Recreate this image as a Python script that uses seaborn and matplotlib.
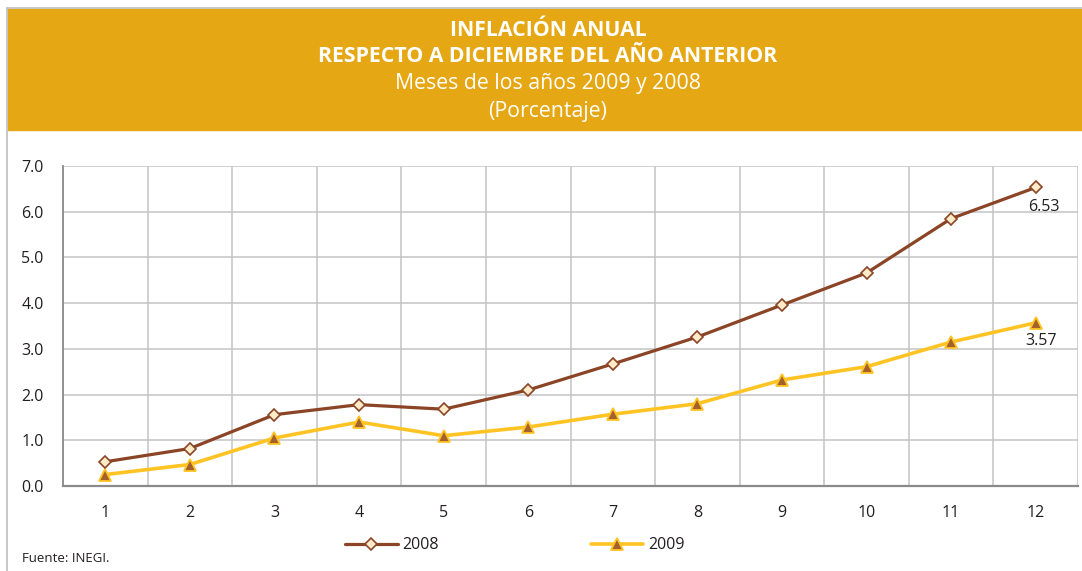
import matplotlib
matplotlib.use("Agg")
import matplotlib.pyplot as plt
import seaborn as sns
import pandas as pd
from matplotlib.patches import Rectangle
from matplotlib.lines import Line2D

# Data
meses = [1, 2, 3, 4, 5, 6, 7, 8, 9, 10, 11, 12]
infl_2008 = [0.53, 0.82, 1.56, 1.78, 1.68, 2.10, 2.67, 3.26, 3.96, 4.66, 5.85, 6.53]
infl_2009 = [0.25, 0.47, 1.05, 1.40, 1.10, 1.29, 1.57, 1.80, 2.32, 2.61, 3.15, 3.57]
y_ticks = [0.0, 1.0, 2.0, 3.0, 4.0, 5.0, 6.0, 7.0]
titulo = ["INFLACIÓN ANUAL", "RESPECTO A DICIEMBRE DEL AÑO ANTERIOR",
          "Meses de los años 2009 y 2008", "(Porcentaje)"]

df = pd.DataFrame({"mes": meses, "2008": infl_2008, "2009": infl_2009})

sns.set_theme(style="white")
plt.rcParams["font.family"] = ["Open Sans", "DejaVu Sans"]

GOLD = "#E5A713"
BROWN = "#8B4426"
YELLOW = "#FFC423"
GRID = "#C4C4C4"
AXIS = "#8A8A8A"
TXT = "#231F20"

fig = plt.figure(figsize=(10.82, 5.71), dpi=100)
W, H = 1082, 571

# header band and outer frame
fig.patches.append(Rectangle((8 / W, 1 - 130 / H), 1 - 8 / W, 121 / H,
                             transform=fig.transFigure, color=GOLD, zorder=0))
fig.lines.append(Line2D([7 / W, 1], [1 - 8 / H, 1 - 8 / H], transform=fig.transFigure,
                        color="#BDBDBD", lw=1.2))
fig.lines.append(Line2D([7 / W, 7 / W], [0, 1 - 8 / H], transform=fig.transFigure,
                        color="#BDBDBD", lw=1.2))

ys = [30, 57, 84, 111]
for i, (t, y) in enumerate(zip(titulo, ys)):
    fig.text(548 / W, 1 - y / H, t, ha="center", va="center", color="white",
             fontsize=15.3, fontweight="bold" if i < 2 else "normal")

ax = fig.add_axes([63 / W, 1 - 486 / H, (1078 - 63) / W, (486 - 166) / H])

sns.lineplot(data=df, x="mes", y="2008", ax=ax, color=BROWN, lw=2.3,
             marker="D", markersize=6.5, markerfacecolor="#FFEBC8",
             markeredgecolor=BROWN, markeredgewidth=1.2, label="2008", zorder=4)
sns.lineplot(data=df, x="mes", y="2009", ax=ax, color=YELLOW, lw=2.6,
             marker="^", markersize=9, markerfacecolor="#A5612B",
             markeredgecolor=YELLOW, markeredgewidth=1.3, label="2009", zorder=3)

ax.set_xlim(0.5, 12.5)
ax.set_ylim(0, 7)
ax.set_xlabel("")
ax.set_ylabel("")

ax.set_xticks(meses)
ax.set_xticklabels([str(m) for m in meses])
ax.set_xticks([m + 0.5 for m in range(0, 13)], minor=True)
ax.set_yticks(y_ticks)
ax.set_yticklabels([f"{v:.1f}" for v in y_ticks])

ax.tick_params(axis="x", which="major", length=0, pad=14, labelsize=11.5, labelcolor=TXT)
ax.tick_params(axis="x", which="minor", length=9, width=1.2, color=AXIS, direction="out")
ax.tick_params(axis="y", length=8, width=1.2, color=AXIS, direction="out",
               pad=6, labelsize=11.5, labelcolor=TXT)

ax.grid(False)
ax.grid(axis="x", which="minor", color=GRID, lw=1.1)
ax.grid(axis="y", which="major", color=GRID, lw=1.1)
ax.set_axisbelow(True)

for s in ["top", "right"]:
    ax.spines[s].set_visible(False)
ax.spines["left"].set_color(AXIS)
ax.spines["bottom"].set_color(AXIS)
ax.spines["left"].set_linewidth(1.3)
ax.spines["bottom"].set_linewidth(1.6)

# end-point labels
ax.annotate(f"{infl_2008[-1]:.2f}", (meses[-1], infl_2008[-1]), xytext=(6, -14),
            textcoords="offset points", ha="center", va="center", fontsize=11.5, color=TXT)
ax.annotate(f"{infl_2009[-1]:.2f}", (meses[-1], infl_2009[-1]), xytext=(4, -13),
            textcoords="offset points", ha="center", va="center", fontsize=11.5, color=TXT)

leg = ax.legend(loc="center", bbox_to_anchor=(0.445, -0.185), ncol=2, frameon=False,
                fontsize=11.5, handlelength=3.3, columnspacing=9.5, handletextpad=0.3)
for t in leg.get_texts():
    t.set_color(TXT)

fig.text(22 / W, 1 - 558 / H, "Fuente: INEGI.", fontsize=9.5, color=TXT, va="center")

fig.savefig("out.png", dpi=100)
